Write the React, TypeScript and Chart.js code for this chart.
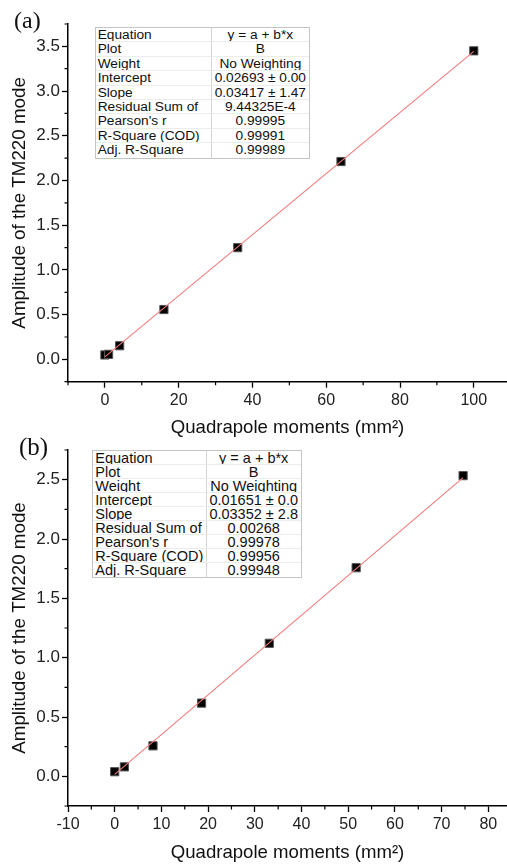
import React, { useEffect, useRef } from "react";
import { Chart, registerables } from "chart.js";

Chart.register(...registerables);

// ---------- data: panel (a) ----------
const X_A = [0, 1, 4, 16, 36, 64, 100];
const Y_A = [0.049, 0.056, 0.152, 0.557, 1.249, 2.212, 3.45];
const FIT_X_A = [0, 100];
const FIT_Y_A = [0.027, 3.444];
const X_TICKS_A = [0, 20, 40, 60, 80, 100];
const X_MINOR_A = [-10, 10, 30, 50, 70, 90];
const Y_TICKS_A = [0, 0.5, 1, 1.5, 2, 2.5, 3, 3.5];
const Y_MINOR_A = [-0.25, 0.25, 0.75, 1.25, 1.75, 2.25, 2.75, 3.25, 3.75];

// ---------- data: panel (b) ----------
const X_B = [0, 2.07, 8.2, 18.6, 33.1, 51.7, 74.6];
const Y_B = [0.039, 0.08, 0.257, 0.617, 1.121, 1.758, 2.534];
const FIT_X_B = [0, 74.6];
const FIT_Y_B = [0.0165, 2.517];
const X_TICKS_B = [-10, 0, 10, 20, 30, 40, 50, 60, 70, 80];
const X_MINOR_B = [-5, 5, 15, 25, 35, 45, 55, 65, 75];
const Y_TICKS_B = [0, 0.5, 1, 1.5, 2, 2.5];
const Y_MINOR_B = [-0.25, 0.25, 0.75, 1.25, 1.75, 2.25, 2.75];

// ---------- tables ----------
const TABLE_LABELS = [
  "Equation",
  "Plot",
  "Weight",
  "Intercept",
  "Slope",
  "Residual Sum of",
  "Pearson's r",
  "R-Square (COD)",
  "Adj. R-Square",
];
const TABLE_A_VALUES = [
  "y = a + b*x",
  "B",
  "No Weighting",
  "0.02693 ± 0.00",
  "0.03417 ± 1.47",
  "9.44325E-4",
  "0.99995",
  "0.99991",
  "0.99989",
];
const TABLE_B_VALUES = [
  "y = a + b*x",
  "B",
  "No Weighting",
  "0.01651 ± 0.0",
  "0.03352 ± 2.8",
  "0.00268",
  "0.99978",
  "0.99956",
  "0.99948",
];

const X_TITLE = "Quadrapole moments (mm²)";
const Y_TITLE = "Amplitude of the TM220 mode";

const SANS = "'Liberation Sans', Arial, sans-serif";

type PanelProps = {
  top: number;
  height: number;
  xs: number[];
  ys: number[];
  fitX: number[];
  fitY: number[];
  xMin: number;
  xMax: number;
  yMin: number;
  yMax: number;
  xTicks: number[];
  xMinor: number[];
  yTicks: number[];
  yMinor: number[];
  chartTop: number;
  axisBottom: number;
  xTitlePad: number;
};

function Panel(p: PanelProps) {
  const ref = useRef<HTMLCanvasElement | null>(null);

  useEffect(() => {
    if (!ref.current) return;
    const minorPlugin = {
      id: "minorTicks",
      afterDraw(chart: any) {
        const { ctx, chartArea, scales } = chart;
        const sx = scales.x;
        const sy = scales.y;
        ctx.save();
        ctx.strokeStyle = "#000";
        ctx.lineWidth = 1.2;
        ctx.beginPath();
        p.xMinor.forEach((v) => {
          const px = sx.getPixelForValue(v);
          ctx.moveTo(px, chartArea.bottom);
          ctx.lineTo(px, chartArea.bottom + 3.5);
        });
        p.yMinor.forEach((v) => {
          const py = sy.getPixelForValue(v);
          ctx.moveTo(chartArea.left, py);
          ctx.lineTo(chartArea.left - 3.5, py);
        });
        ctx.stroke();
        ctx.restore();
      },
    };

    const chart = new Chart(ref.current, {
      type: "scatter",
      data: {
        datasets: [
          {
            label: "fit",
            data: p.fitX.map((x, i) => ({ x, y: p.fitY[i] })),
            showLine: true,
            borderColor: "#f27a7a",
            borderWidth: 1.1,
            pointRadius: 0,
            fill: false,
            order: 0,
          },
          {
            label: "B",
            data: p.xs.map((x, i) => ({ x, y: p.ys[i] })),
            showLine: false,
            pointStyle: "rect",
            pointRadius: 5.8,
            backgroundColor: "#000",
            borderColor: "#555",
            borderWidth: 1,
            order: 1,
          },
        ],
      },
      options: {
        animation: false,
        responsive: true,
        maintainAspectRatio: false,
        layout: {
          autoPadding: false,
          padding: { top: p.chartTop, left: 0, right: 0, bottom: 0 },
        },
        plugins: {
          legend: { display: false },
          tooltip: { enabled: false },
        },
        scales: {
          x: {
            type: "linear",
            min: p.xMin,
            max: p.xMax,
            afterBuildTicks: (s: any) => {
              s.ticks = p.xTicks.map((v) => ({ value: v }));
            },
            afterFit: (s: any) => {
              s.height = p.height - p.axisBottom;
            },
            grid: {
              display: true,
              drawOnChartArea: false,
              drawTicks: true,
              tickLength: 6,
              tickColor: "#000",
              tickWidth: 1.3,
            },
            border: { display: true, color: "#000", width: 1.5 },
            ticks: {
              autoSkip: false,
              maxRotation: 0,
              color: "#222",
              padding: 3,
              font: { family: SANS, size: 16 },
              callback: (v: any) => String(v),
            },
            title: {
              display: true,
              text: X_TITLE,
              color: "#111",
              font: { family: SANS, size: 18.6 },
              padding: { top: 0, bottom: p.xTitlePad },
            },
          },
          y: {
            type: "linear",
            min: p.yMin,
            max: p.yMax,
            afterBuildTicks: (s: any) => {
              s.ticks = p.yTicks.map((v) => ({ value: v }));
            },
            afterFit: (s: any) => {
              s.width = 68;
            },
            grid: {
              display: true,
              drawOnChartArea: false,
              drawTicks: true,
              tickLength: 6,
              tickColor: "#000",
              tickWidth: 1.3,
            },
            border: { display: true, color: "#000", width: 1.5 },
            ticks: {
              autoSkip: false,
              color: "#222",
              padding: 2,
              font: { family: SANS, size: 17 },
              callback: (v: any) => Number(v).toFixed(1),
            },
            title: {
              display: true,
              text: Y_TITLE,
              color: "#111",
              font: { family: SANS, size: 18.8 },
              padding: { top: 9, bottom: 0 },
            },
          },
        },
      },
      plugins: [minorPlugin],
    } as any);

    return () => chart.destroy();
  }, []);

  return (
    <div
      style={{
        position: "absolute",
        left: 0,
        top: p.top,
        width: 507,
        height: p.height,
      }}
    >
      <canvas ref={ref} />
    </div>
  );
}

type TableProps = {
  left: number;
  top: number;
  width: number;
  height: number;
  col1: number;
  fontSize: number;
  textOffset: number;
  values: string[];
};

function FitTable(t: TableProps) {
  const rowH = (t.height - 2) / TABLE_LABELS.length;
  return (
    <div
      style={{
        position: "absolute",
        left: t.left,
        top: t.top,
        width: t.width,
        height: t.height,
        boxSizing: "border-box",
        border: "1px solid #c4c4c4",
        background: "#fff",
        fontFamily: SANS,
        fontSize: t.fontSize,
        color: "#111",
      }}
    >
      {TABLE_LABELS.map((label, i) => (
        <div
          key={label}
          style={{
            display: "flex",
            height: rowH,
            boxSizing: "border-box",
            borderBottom:
              i < TABLE_LABELS.length - 1 ? "1px solid #ececec" : "none",
            overflow: "hidden",
          }}
        >
          <div
            style={{
              width: t.col1,
              boxSizing: "border-box",
              borderRight: "1px solid #d4d4d4",
              paddingLeft: 2,
              paddingTop: t.textOffset,
              lineHeight: `${rowH}px`,
              whiteSpace: "nowrap",
              overflow: "hidden",
            }}
          >
            {label}
          </div>
          <div
            style={{
              flex: 1,
              textAlign: "center",
              paddingTop: t.textOffset,
              lineHeight: `${rowH}px`,
              whiteSpace: "nowrap",
              overflow: "hidden",
            }}
          >
            {t.values[i]}
          </div>
        </div>
      ))}
    </div>
  );
}

export default function App() {
  return (
    <div
      style={{
        position: "absolute",
        left: 0,
        top: 0,
        width: 507,
        height: 866,
        overflow: "hidden",
        background: "#fff",
      }}
    >
      <Panel
        top={0}
        height={450}
        xs={X_A}
        ys={Y_A}
        fitX={FIT_X_A}
        fitY={FIT_Y_A}
        xMin={-10}
        xMax={109}
        yMin={-0.25}
        yMax={3.75}
        xTicks={X_TICKS_A}
        xMinor={X_MINOR_A}
        yTicks={Y_TICKS_A}
        yMinor={Y_MINOR_A}
        chartTop={24}
        axisBottom={381.7}
        xTitlePad={11}
      />
      <Panel
        top={430}
        height={436}
        xs={X_B}
        ys={Y_B}
        fitX={FIT_X_B}
        fitY={FIT_Y_B}
        xMin={-10}
        xMax={84}
        yMin={-0.25}
        yMax={2.75}
        xTicks={X_TICKS_B}
        xMinor={X_MINOR_B}
        yTicks={Y_TICKS_B}
        yMinor={Y_MINOR_B}
        chartTop={20}
        axisBottom={376}
        xTitlePad={1.5}
      />
      <FitTable
        left={94.7}
        top={27}
        width={215.3}
        height={131.7}
        col1={116}
        fontSize={13.7}
        textOffset={0}
        values={TABLE_A_VALUES}
      />
      <FitTable
        left={92.3}
        top={450}
        width={209.4}
        height={127.7}
        col1={113.4}
        fontSize={14.5}
        textOffset={1}
        values={TABLE_B_VALUES}
      />
      <div
        style={{
          position: "absolute",
          left: 14,
          top: 7.7,
          fontFamily: "'Liberation Serif', 'Times New Roman', serif",
          fontSize: 24,
          lineHeight: "24px",
          color: "#111",
        }}
      >
        (a)
      </div>
      <div
        style={{
          position: "absolute",
          left: 19,
          top: 434.3,
          fontFamily: "'Liberation Serif', 'Times New Roman', serif",
          fontSize: 25,
          lineHeight: "25px",
          color: "#111",
        }}
      >
        (b)
      </div>
    </div>
  );
}
